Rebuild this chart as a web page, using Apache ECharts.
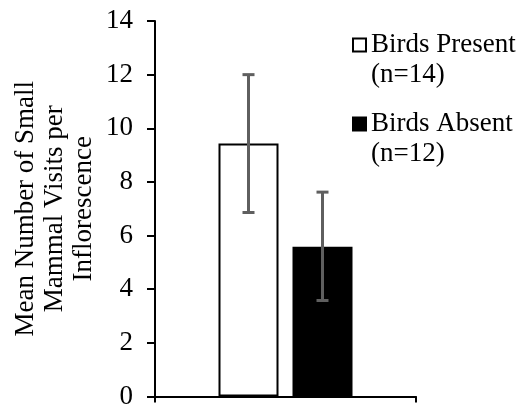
<!DOCTYPE html>
<html>
<head>
<meta charset="utf-8">
<script src="https://cdn.jsdelivr.net/npm/echarts@6/dist/echarts.min.js"></script>
<style>html,body{margin:0;padding:0;background:#fff;}#c{width:524px;height:410px;}</style>
</head>
<body>
<div id="c"></div>
<script>
const categories = [''];
const seriesNames = ['Birds Present\n(n=14)', 'Birds Absent\n(n=12)'];
const means = [9.43, 5.58];
const errLow = [6.86, 3.58];
const errHigh = [12.0, 7.62];
const yAxisTitle = 'Mean Number of Small\nMammal Visits per\nInflorescence';
const yMin = 0, yMax = 14, yInterval = 2;

const FONT = '"Liberation Serif", "Times New Roman", serif';
const BAR_W = 60, GAP = 14;
const fills = ['#ffffff', '#000000'];

const chart = echarts.init(document.getElementById('c'), null, {renderer: 'canvas'});

const barSeries = seriesNames.map((name, i) => ({
  name: name,
  type: 'bar',
  data: [means[i]],
  barWidth: BAR_W,
  barGap: (GAP / BAR_W * 100) + '%',
  itemStyle: {color: fills[i], borderColor: '#000', borderWidth: 2},
  emphasis: {disabled: true},
  z: 2
}));

const errSeries = seriesNames.map((name, i) => ({
  type: 'custom',
  data: [[0, errLow[i], errHigh[i]]],
  z: 5,
  renderItem: function (params, api) {
    const offset = (i - (seriesNames.length - 1) / 2) * (BAR_W + GAP);
    const lo = api.coord([api.value(0), api.value(1)]);
    const hi = api.coord([api.value(0), api.value(2)]);
    const x = lo[0] + offset;
    const cap = 6;
    const st = {stroke: '#5f5f5f', lineWidth: 3};
    return {
      type: 'group',
      children: [
        {type: 'line', shape: {x1: x, y1: hi[1], x2: x, y2: lo[1]}, style: st},
        {type: 'line', shape: {x1: x - cap, y1: hi[1], x2: x + cap, y2: hi[1]}, style: st},
        {type: 'line', shape: {x1: x - cap, y1: lo[1], x2: x + cap, y2: lo[1]}, style: st}
      ]
    };
  }
}));

chart.setOption({
  animation: false,
  backgroundColor: '#fff',
  grid: {left: 155, right: 108, top: 21, bottom: 11, containLabel: false},
  legend: {
    orient: 'vertical',
    left: 352,
    top: 0,
    padding: 0,
    itemGap: -11,
    itemWidth: 13,
    itemHeight: 13,
    icon: 'rect',
    selectedMode: false,
    data: seriesNames,
    formatter: function (name) { return ' \n' + name; },
    textStyle: {fontFamily: FONT, fontSize: 27, color: '#000', lineHeight: 30}
  },
  xAxis: {
    type: 'category',
    data: categories,
    axisLine: {lineStyle: {color: '#000', width: 2}},
    axisTick: {show: true, length: 6, lineStyle: {color: '#000', width: 2}},
    axisLabel: {show: false}
  },
  yAxis: {
    type: 'value',
    min: yMin, max: yMax, interval: yInterval,
    name: yAxisTitle,
    nameLocation: 'middle',
    nameRotate: 90,
    nameGap: 57,
    nameTextStyle: {fontFamily: FONT, fontSize: 27, lineHeight: 29, color: '#000', align: 'center'},
    axisLine: {show: true, lineStyle: {color: '#000', width: 2}},
    axisTick: {show: true, length: 8, lineStyle: {color: '#000', width: 2}},
    splitLine: {show: false},
    axisLabel: {fontFamily: FONT, fontSize: 27, color: '#000', margin: 22}
  },
  series: barSeries.concat(errSeries)
});
</script>
</body>
</html>
